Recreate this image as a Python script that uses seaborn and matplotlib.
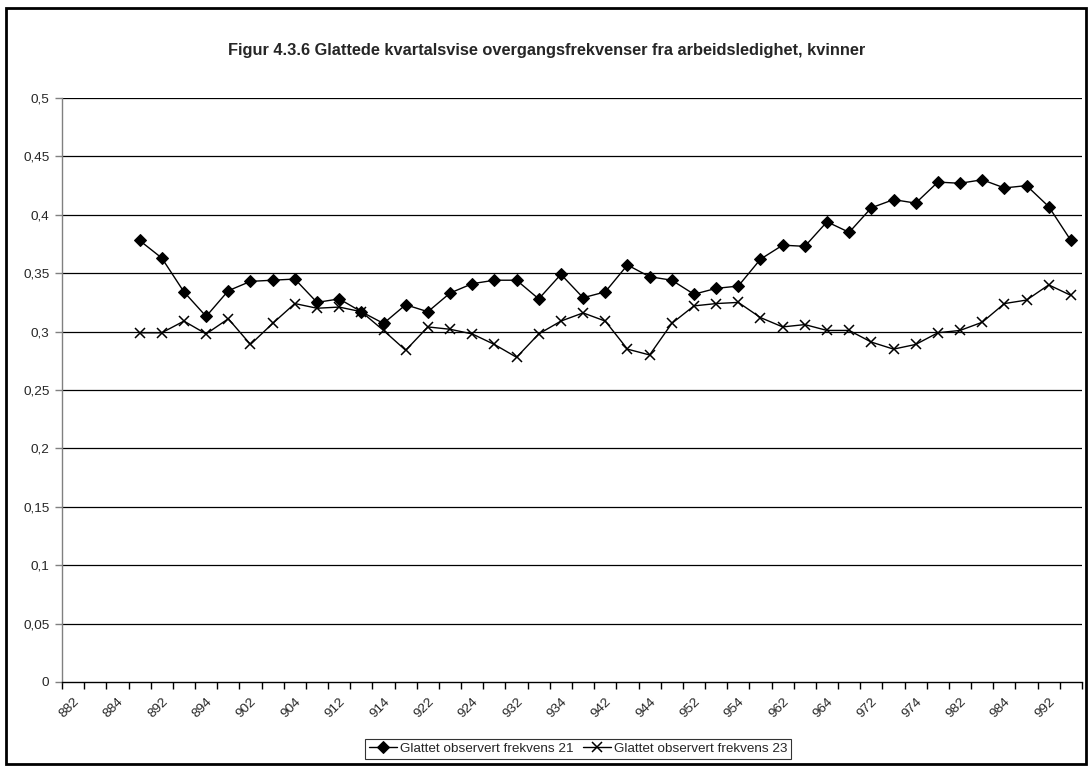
import numpy as np
import pandas as pd
import matplotlib
matplotlib.use("Agg")
import matplotlib.pyplot as plt
import seaborn as sns
from matplotlib.patches import Rectangle

# Quarter categories on the x axis (year + quarter)
quarters = ["882", "883", "884",
            "891", "892", "893", "894",
            "901", "902", "903", "904",
            "911", "912", "913", "914",
            "921", "922", "923", "924",
            "931", "932", "933", "934",
            "941", "942", "943", "944",
            "951", "952", "953", "954",
            "961", "962", "963", "964",
            "971", "972", "973", "974",
            "981", "982", "983", "984",
            "991", "992", "993"]

# both series start in 891
series_quarters = quarters[3:]

freq_21 = [0.378, 0.363, 0.334, 0.313, 0.335, 0.343, 0.344, 0.345, 0.325, 0.328,
           0.317, 0.307, 0.323, 0.317, 0.333, 0.341, 0.344, 0.344, 0.328, 0.349,
           0.329, 0.334, 0.357, 0.347, 0.344, 0.332, 0.337, 0.339, 0.362, 0.374,
           0.373, 0.394, 0.385, 0.406, 0.413, 0.410, 0.428, 0.427, 0.430, 0.423,
           0.425, 0.407, 0.378]

freq_23 = [0.299, 0.299, 0.309, 0.298, 0.311, 0.289, 0.307, 0.324, 0.320, 0.321,
           0.317, 0.301, 0.284, 0.304, 0.302, 0.298, 0.289, 0.278, 0.298, 0.309,
           0.316, 0.309, 0.285, 0.280, 0.307, 0.322, 0.324, 0.325, 0.312, 0.304,
           0.306, 0.301, 0.301, 0.291, 0.285, 0.289, 0.299, 0.301, 0.308, 0.324,
           0.327, 0.340, 0.331]

label_21 = "Glattet observert frekvens 21"
label_23 = "Glattet observert frekvens 23"
title = "Figur 4.3.6 Glattede kvartalsvise overgangsfrekvenser fra arbeidsledighet, kvinner"

FS = 9.7

sns.set_style("white")
plt.rcParams["font.family"] = ["Liberation Sans", "DejaVu Sans"]

df = pd.DataFrame({
    "pos": [quarters.index(q) for q in series_quarters],
    "f21": freq_21,
    "f23": freq_23,
})

fig = plt.figure(figsize=(10.91, 7.67), dpi=100)
ax = fig.add_axes([62 / 1091, 1 - 682 / 767, 1020 / 1091, 584 / 767])

# horizontal gridlines like the excel chart
for y in np.arange(0.05, 0.501, 0.05):
    ax.axhline(y, color="black", lw=0.9, zorder=0)

sns.lineplot(data=df, x="pos", y="f21", ax=ax, color="black", lw=1,
             marker="D", markersize=6, markeredgecolor="black",
             markerfacecolor="black", label=label_21, legend=False)
sns.lineplot(data=df, x="pos", y="f23", ax=ax, color="black", lw=1,
             marker="x", markersize=7, markeredgewidth=1.1,
             markeredgecolor="black", label=label_23, legend=False)

ax.set_xlim(-0.5, len(quarters) - 0.5)
ax.set_ylim(0, 0.5)
ax.set_xlabel("")
ax.set_ylabel("")

# ticks between categories, labels on every second category
ax.set_xticks(np.arange(-0.5, len(quarters), 1.0))
ax.set_xticklabels([])
ax.set_xticks(np.arange(0, len(quarters), 2), minor=True)
ax.set_xticklabels(quarters[::2], minor=True, rotation=45, ha="right",
                   va="top", rotation_mode="anchor", fontsize=FS)
ax.tick_params(axis="x", which="major", direction="out", length=5, width=1,
               color="black", bottom=True)
ax.tick_params(axis="x", which="minor", length=0, pad=10)

yt = np.arange(0, 0.501, 0.05)
ax.set_yticks(yt)
ax.set_yticklabels([("%g" % round(v, 2)).replace(".", ",") for v in yt], fontsize=FS)
ax.tick_params(axis="y", direction="out", length=5, width=1, color="#808080",
               left=True, pad=4)

for s in ["top", "right"]:
    ax.spines[s].set_visible(False)
ax.spines["left"].set_color("#808080")
ax.spines["left"].set_linewidth(1)
ax.spines["bottom"].set_color("black")
ax.spines["bottom"].set_linewidth(1)

fig.text(547 / 1091, 1 - 50 / 767, title, ha="center", va="center",
         fontsize=11.8, fontweight="bold")

handles, labels = ax.get_legend_handles_labels()
leg = fig.legend(handles, labels, loc="center", ncol=2,
                 bbox_to_anchor=(578 / 1091, 1 - 749 / 767), fontsize=FS,
                 frameon=True, fancybox=False, shadow=False,
                 edgecolor="black", handlelength=2.1, handletextpad=0.2,
                 columnspacing=0.7, borderpad=0.25)
leg.get_frame().set_linewidth(0.8)

# outer chart border
fig.patches.append(Rectangle((6 / 1091, 3 / 767), 1080 / 1091, 756 / 767,
                             transform=fig.transFigure, fill=False,
                             edgecolor="black", lw=2))

fig.savefig("out.png", dpi=100)
